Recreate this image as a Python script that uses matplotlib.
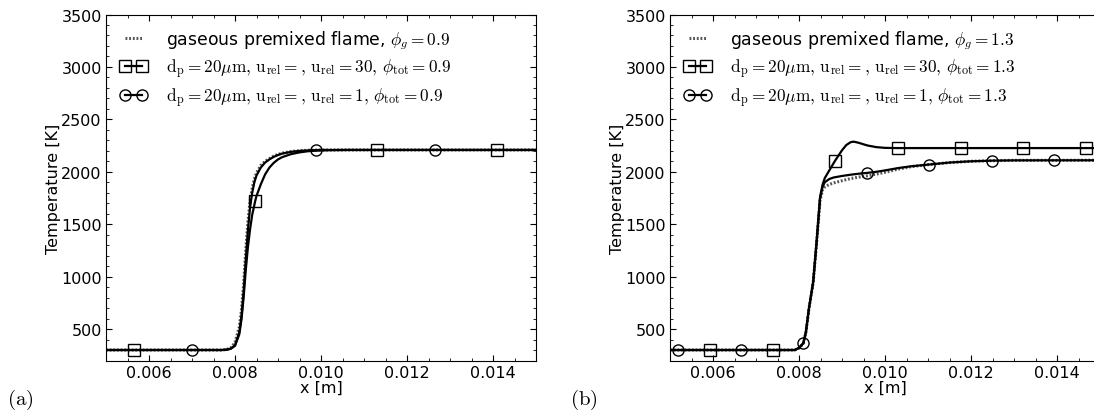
import matplotlib
matplotlib.use('Agg')
import matplotlib.pyplot as plt
from matplotlib.lines import Line2D
from matplotlib.ticker import MultipleLocator

plt.rcParams['mathtext.fontset'] = 'cm'
plt.rcParams['font.family'] = ['DejaVu Sans']

# ---- panel (a): phi = 0.9 ----
gas09_x = [0.0050, 0.0077, 0.0078, 0.0079, 0.0080, 0.0081, 0.00815, 0.0082, 0.00825, 0.0083, 0.00835,
           0.0084, 0.00845, 0.0085, 0.0086, 0.0087, 0.0088, 0.0089, 0.0090, 0.0091, 0.0093, 0.0095,
           0.0097, 0.0100, 0.0150]
gas09_T = [300, 300, 305, 320, 370, 520, 680, 920, 1250, 1520, 1720,
           1840, 1930, 1990, 2060, 2100, 2125, 2150, 2165, 2178, 2193, 2201,
           2205, 2208, 2208]

u1_09_x = [0.0050, 0.0077, 0.0078, 0.0079, 0.0080, 0.0081, 0.00815, 0.0082, 0.00825, 0.0083, 0.00835,
           0.0084, 0.00845, 0.0085, 0.0086, 0.0087, 0.0088, 0.0089, 0.0090, 0.0091, 0.0093, 0.0095,
           0.0097, 0.0100, 0.0150]
u1_09_T = [300, 300, 303, 313, 345, 470, 620, 850, 1160, 1440, 1660,
           1800, 1900, 1965, 2040, 2088, 2118, 2142, 2160, 2174, 2190, 2199,
           2204, 2208, 2208]

u30_09_x = [0.0050, 0.0077, 0.0078, 0.0079, 0.0080, 0.0081, 0.00815, 0.0082, 0.00825, 0.0083, 0.00835,
            0.0084, 0.00847, 0.0085, 0.0086, 0.0087, 0.0088, 0.0089, 0.0090, 0.0091, 0.0093, 0.0095,
            0.0097, 0.0099, 0.0102, 0.0106, 0.0150]
u30_09_T = [300, 300, 303, 312, 340, 450, 590, 800, 1060, 1280, 1450,
            1590, 1721, 1770, 1880, 1975, 2040, 2085, 2118, 2140, 2168, 2185,
            2196, 2202, 2206, 2208, 2208]

sq09_x = [0.00565, 0.00847, 0.0113, 0.0141]
sq09_T = [300, 1721, 2208, 2208]
ci09_x = [0.0070, 0.00988, 0.01265]
ci09_T = [300, 2208, 2208]

# ---- panel (b): phi = 1.3 ----
gas13_x = [0.0050, 0.0079, 0.0080, 0.0081, 0.00816, 0.00823, 0.00833, 0.00841, 0.00849, 0.00855, 0.0086,
           0.0087, 0.0088, 0.0090, 0.0092, 0.0094, 0.0096, 0.0098, 0.0100, 0.0103, 0.0106, 0.0110,
           0.0115, 0.0120, 0.0125, 0.0130, 0.0155]
gas13_T = [300, 300, 318, 362, 465, 688, 944, 1325, 1730, 1830, 1855,
           1878, 1893, 1915, 1935, 1950, 1962, 1978, 1995, 2025, 2048, 2068,
           2088, 2100, 2106, 2109, 2110]

u1_13_x = [0.0050, 0.0079, 0.0080, 0.0081, 0.00816, 0.00823, 0.00833, 0.00841, 0.00849, 0.00855, 0.0086,
           0.0087, 0.0088, 0.0090, 0.0092, 0.0094, 0.0096, 0.0098, 0.0100, 0.0103, 0.0106, 0.0110,
           0.0115, 0.0120, 0.0125, 0.0130, 0.0155]
u1_13_T = [300, 300, 320, 365, 470, 692, 948, 1330, 1745, 1860, 1900,
           1930, 1945, 1960, 1972, 1982, 1990, 2000, 2013, 2035, 2052, 2068,
           2088, 2100, 2106, 2109, 2110]

u30_13_x = [0.0050, 0.0079, 0.0080, 0.0081, 0.00816, 0.00823, 0.00833, 0.00841, 0.00849, 0.00855, 0.0086,
            0.0087, 0.00884, 0.0090, 0.0091, 0.0092, 0.00926, 0.0093, 0.0094, 0.0095, 0.0096, 0.0098,
            0.0100, 0.0103, 0.0155]
u30_13_T = [300, 300, 320, 365, 470, 692, 950, 1335, 1760, 1880, 1940,
            2010, 2106, 2205, 2255, 2282, 2287, 2285, 2275, 2262, 2250, 2235,
            2228, 2226, 2226]

sq13_x = [0.00592, 0.00739, 0.00884, 0.0103, 0.01176, 0.01321, 0.01467]
sq13_T = [300, 300, 2106, 2226, 2226, 2226, 2226]
ci13_x = [0.00519, 0.00665, 0.0081, 0.00957, 0.01102, 0.01248, 0.01394]
ci13_T = [300, 300, 365, 1988, 2068, 2104, 2108]

panels = [
    dict(gas=(gas09_x, gas09_T), u30=(u30_09_x, u30_09_T), u1=(u1_09_x, u1_09_T),
         sq=(sq09_x, sq09_T), ci=(ci09_x, ci09_T), phi='0.9', tag='(a)', left=106),
    dict(gas=(gas13_x, gas13_T), u30=(u30_13_x, u30_13_T), u1=(u1_13_x, u1_13_T),
         sq=(sq13_x, sq13_T), ci=(ci13_x, ci13_T), phi='1.3', tag='(b)', left=670),
]

W, H = 1094, 414
fig = plt.figure(figsize=(W / 100, H / 100), dpi=100)

gas_style = dict(color='#555555', linestyle=(0, (0.6, 0.6)), linewidth=2.2)
lw = 1.6

for p in panels:
    ax = fig.add_axes([p['left'] / W, (H - 361.5) / H, 430 / W, 346 / H])
    ax.plot(*p['gas'], **gas_style)
    ax.plot(*p['u30'], color='black', linewidth=lw)
    ax.plot(*p['u1'], color='black', linewidth=lw)
    mk = dict(linestyle='none', markerfacecolor='none', markeredgecolor='black',
              markeredgewidth=1.0, markersize=8)
    ax.plot(*p['sq'], marker='s', **mk)
    ax.plot(*p['ci'], marker='o', **mk)

    ax.set_xlim(0.005, 0.015)
    ax.set_ylim(200, 3500)
    ax.xaxis.set_major_locator(MultipleLocator(0.002))
    ax.xaxis.set_minor_locator(MultipleLocator(0.0005))
    ax.yaxis.set_minor_locator(MultipleLocator(100))
    ax.set_yticks([500, 1000, 1500, 2000, 2500, 3000, 3500])
    ax.xaxis.set_major_formatter(plt.FormatStrFormatter('%.3f'))
    ax.tick_params(which='both', direction='in', top=True, right=True, labelsize=11.5, pad=3)
    ax.tick_params(which='major', length=4)
    ax.tick_params(which='minor', length=2)
    ax.set_xlabel('x [m]', fontsize=11.5, labelpad=0)
    ax.set_ylabel('Temperature [K]', fontsize=11.5, labelpad=0)

    phi = p['phi']
    handles = [
        Line2D([], [], **gas_style),
        Line2D([], [], color='black', linewidth=lw, marker='s', markerfacecolor='none',
               markeredgecolor='black', markersize=8),
        Line2D([], [], color='black', linewidth=lw, marker='o', markerfacecolor='none',
               markeredgecolor='black', markersize=8),
    ]
    labels = [
        r'gaseous premixed flame, $\phi_g=' + phi + '$',
        r'$\mathrm{d_p=20\mu m,\, u_{rel}=,\, u_{rel}=30,\, \phi_{tot}=' + phi + '}$',
        r'$\mathrm{d_p=20\mu m,\, u_{rel}=,\, u_{rel}=1,\, \phi_{tot}=' + phi + '}$',
    ]
    ax.legend(handles, labels, loc='upper left', frameon=False, fontsize=12.4,
              numpoints=2, handlelength=1.6, handletextpad=1.1, labelspacing=0.28,
              borderaxespad=0.3, borderpad=0.5)

    fig.text((p['left'] - 86) / W, 1 - 400 / H, r'$\mathrm{' + p['tag'] + '}$',
             fontsize=15, ha='center', va='center')

fig.savefig('out.png', dpi=100)
